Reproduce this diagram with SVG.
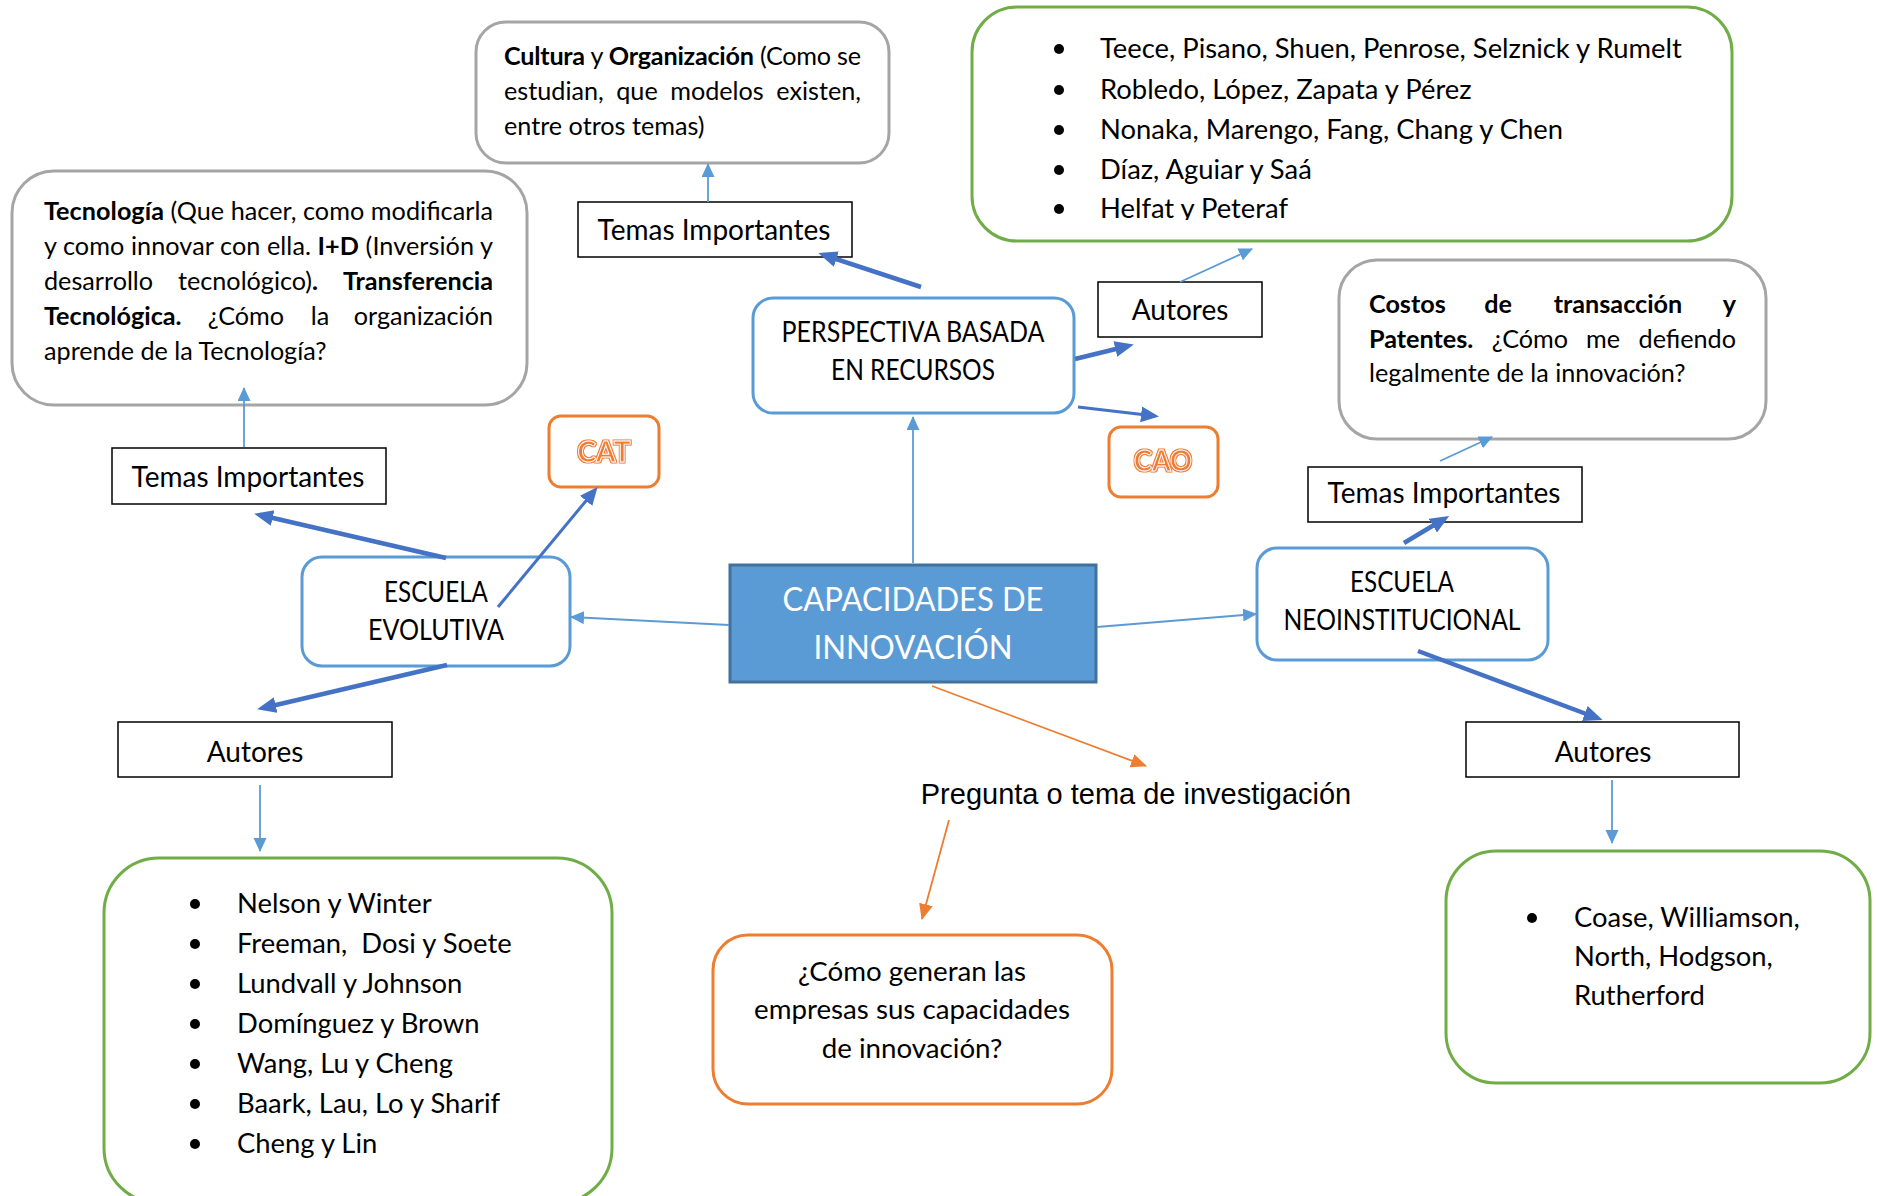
<svg xmlns="http://www.w3.org/2000/svg" width="1877" height="1196" viewBox="0 0 1877 1196">
<style>
.t{font-family:Lato,"Noto Sans",sans-serif;fill:#000}
.body{font-size:25.2px}
.lbl{font-size:28px}
.lst{font-size:27.4px}
.q{font-size:27.7px}
.b{font-weight:bold}
.mid{text-anchor:middle}
.end{text-anchor:end}
.gray{fill:#fff;stroke:#A5A5A5;stroke-width:3}
.green{fill:#fff;stroke:#70AD47;stroke-width:3}
.blue{fill:#fff;stroke:#5B9BD5;stroke-width:3}
.orange{fill:#fff;stroke:#ED7D31;stroke-width:3}
.sq{fill:#fff;stroke:#000;stroke-width:1.5}
.thin{fill:none;stroke:#5B9BD5;stroke-width:1.8}
.thick{fill:none;stroke:#4472C4;stroke-width:4.5}
.med{fill:none;stroke:#4472C4;stroke-width:3}
.or{fill:none;stroke:#ED7D31;stroke-width:1.8}
.tag{font-family:Lato,"Noto Sans",sans-serif;font-weight:bold;font-size:29px;fill:#ED7D31;stroke:#fff;stroke-width:0.9;text-anchor:middle}
</style>
<defs>
<marker id="a-lb" markerUnits="userSpaceOnUse" markerWidth="16" markerHeight="14" refX="13" refY="6.5" orient="auto"><path d="M0,0 L14,6.5 L0,13 z" fill="#5B9BD5"/></marker>
<marker id="a-db" markerUnits="userSpaceOnUse" markerWidth="20" markerHeight="18" refX="13" refY="8" orient="auto"><path d="M0,0 L19,8 L0,16 z" fill="#4472C4"/></marker>
<marker id="a-dm" markerUnits="userSpaceOnUse" markerWidth="20" markerHeight="18" refX="14" refY="8" orient="auto"><path d="M0,0 L18,8 L0,16 z" fill="#4472C4"/></marker>
<marker id="a-or" markerUnits="userSpaceOnUse" markerWidth="18" markerHeight="16" refX="15" refY="7" orient="auto"><path d="M0,0 L16,7 L0,14 z" fill="#ED7D31"/></marker>
<filter id="outl" x="-10%" y="-10%" width="120%" height="120%"><feMorphology in="SourceAlpha" operator="dilate" radius="1.3" result="d"/><feFlood flood-color="#ED7D31"/><feComposite in2="d" operator="in" result="o"/><feMerge><feMergeNode in="o"/><feMergeNode in="SourceGraphic"/></feMerge></filter>
<clipPath id="clipTop"><rect x="972" y="0" width="760" height="220"/></clipPath>
</defs>
<rect width="1877" height="1196" fill="#fff"/>

<g id="node-center">
<rect x="730" y="565" width="366" height="117" fill="#5B9BD5" stroke="#41719C" stroke-width="3"/>
<text class="t mid" x="913" y="611" font-size="33" style="fill:#fff" textLength="261" lengthAdjust="spacingAndGlyphs">CAPACIDADES DE</text>
<text class="t mid" x="913" y="659" font-size="33" style="fill:#fff" textLength="199" lengthAdjust="spacingAndGlyphs">INNOVACIÓN</text>
</g>

<g id="node-perspectiva">
<rect class="blue" x="753" y="298" width="321" height="115" rx="20"/>
<text class="t lbl mid" x="913" y="342" textLength="263" lengthAdjust="spacingAndGlyphs">PERSPECTIVA BASADA</text>
<text class="t lbl mid" x="913" y="380" textLength="164" lengthAdjust="spacingAndGlyphs">EN RECURSOS</text>
</g>

<g id="node-evolutiva">
<rect class="blue" x="302" y="557" width="268" height="109" rx="20"/>
<text class="t lbl mid" x="436" y="602" textLength="104" lengthAdjust="spacingAndGlyphs">ESCUELA</text>
<text class="t lbl mid" x="436" y="640" textLength="136" lengthAdjust="spacingAndGlyphs">EVOLUTIVA</text>
</g>

<g id="node-neoinst">
<rect class="blue" x="1257" y="548" width="291" height="112" rx="20"/>
<text class="t lbl mid" x="1402" y="592" textLength="104" lengthAdjust="spacingAndGlyphs">ESCUELA</text>
<text class="t lbl mid" x="1402" y="630" textLength="237" lengthAdjust="spacingAndGlyphs">NEOINSTITUCIONAL</text>
</g>

<g id="node-temas-top">
<rect class="sq" x="578" y="202" width="274" height="55"/>
<text class="t lbl mid" x="714" y="240">Temas Importantes</text>
</g>

<g id="node-temas-left">
<rect class="sq" x="112" y="448" width="274" height="56"/>
<text class="t lbl mid" x="248" y="487">Temas Importantes</text>
</g>

<g id="node-temas-right">
<rect class="sq" x="1308" y="467" width="274" height="55"/>
<text class="t lbl mid" x="1444" y="503">Temas Importantes</text>
</g>

<g id="node-autores-top">
<rect class="sq" x="1098" y="282" width="164" height="55"/>
<text class="t lbl mid" x="1180" y="320">Autores</text>
</g>

<g id="node-autores-left">
<rect class="sq" x="118" y="722" width="274" height="55"/>
<text class="t lbl mid" x="255" y="762">Autores</text>
</g>

<g id="node-autores-right">
<rect class="sq" x="1466" y="722" width="273" height="55"/>
<text class="t lbl mid" x="1603" y="762">Autores</text>
</g>

<g id="node-cat">
<rect class="orange" x="549" y="416" width="110" height="71" rx="12"/>
<text class="tag" x="604" y="462" textLength="53" lengthAdjust="spacingAndGlyphs" filter="url(#outl)">CAT</text>
</g>

<g id="node-cao">
<rect class="orange" x="1109" y="427" width="109" height="70" rx="12"/>
<text class="tag" x="1163" y="471" textLength="58" lengthAdjust="spacingAndGlyphs" filter="url(#outl)">CAO</text>
</g>

<g id="node-tecnologia">
<rect class="gray" x="12" y="171" width="515" height="234" rx="42"/>
<text class="t body" x="44" y="220" textLength="449" lengthAdjust="spacing"><tspan class="b">Tecnología</tspan> (Que hacer, como modificarla</text>
<text class="t body" x="44" y="255" textLength="449" lengthAdjust="spacing">y como innovar con ella. <tspan class="b">I+D</tspan> (Inversión y</text>
<text class="t body" x="44" y="290">desarrollo</text>
<text class="t body mid" x="248" y="290">tecnológico)<tspan class="b">.</tspan></text>
<text class="t body b end" x="493" y="290">Transferencia</text>
<text class="t body b" x="44" y="325">Tecnológica.</text>
<text class="t body mid" x="246" y="325">¿Cómo</text>
<text class="t body mid" x="320" y="325">la</text>
<text class="t body end" x="493" y="325">organización</text>
<text class="t body" x="44" y="360">aprende de la Tecnología?</text>
</g>

<g id="node-cultura">
<rect class="gray" x="476" y="22" width="413" height="141" rx="30"/>
<text class="t body" x="504" y="65" textLength="357" lengthAdjust="spacing"><tspan class="b">Cultura</tspan> y <tspan class="b">Organización</tspan> (Como se</text>
<text class="t body" x="504" y="100">estudian,</text>
<text class="t body mid" x="637" y="100">que</text>
<text class="t body mid" x="717" y="100">modelos</text>
<text class="t body end" x="861" y="100">existen,</text>
<text class="t body" x="504" y="135">entre otros temas)</text>
</g>

<g id="node-costos">
<rect class="gray" x="1339" y="260" width="427" height="179" rx="38"/>
<text class="t body b" x="1369" y="313">Costos</text>
<text class="t body b mid" x="1498" y="313">de</text>
<text class="t body b mid" x="1618" y="313">transacción</text>
<text class="t body b end" x="1736" y="313">y</text>
<text class="t body b" x="1369" y="348">Patentes.</text>
<text class="t body mid" x="1530" y="348">¿Cómo</text>
<text class="t body mid" x="1603" y="348">me</text>
<text class="t body end" x="1736" y="348">defiendo</text>
<text class="t body" x="1369" y="382">legalmente de la innovación?</text>
</g>

<g id="node-autores-rbv-list">
<rect class="green" x="972" y="7" width="760" height="234" rx="45"/>
<g clip-path="url(#clipTop)">
<circle cx="1059" cy="49" r="5"/>
<circle cx="1059" cy="90" r="5"/>
<circle cx="1059" cy="130" r="5"/>
<circle cx="1059" cy="170" r="5"/>
<circle cx="1059" cy="209" r="5"/>
<text class="t lst" x="1100" y="58">Teece, Pisano, Shuen, Penrose, Selznick y Rumelt</text>
<text class="t lst" x="1100" y="99">Robledo, López, Zapata y Pérez</text>
<text class="t lst" x="1100" y="139">Nonaka, Marengo, Fang, Chang y Chen</text>
<text class="t lst" x="1100" y="179">Díaz, Aguiar y Saá</text>
<text class="t lst" x="1100" y="218">Helfat y Peteraf</text>
</g>
</g>

<g id="node-autores-evol-list">
<rect class="green" x="104" y="858" width="508" height="345" rx="55"/>
<circle cx="195" cy="904" r="5"/>
<circle cx="195" cy="944" r="5"/>
<circle cx="195" cy="984" r="5"/>
<circle cx="195" cy="1024" r="5"/>
<circle cx="195" cy="1064" r="5"/>
<circle cx="195" cy="1104" r="5"/>
<circle cx="195" cy="1144" r="5"/>
<text class="t lst" x="237" y="913">Nelson y Winter</text>
<text class="t lst" x="237" y="953" xml:space="preserve">Freeman,  Dosi y Soete</text>
<text class="t lst" x="237" y="993">Lundvall y Johnson</text>
<text class="t lst" x="237" y="1033">Domínguez y Brown</text>
<text class="t lst" x="237" y="1073">Wang, Lu y Cheng</text>
<text class="t lst" x="237" y="1113">Baark, Lau, Lo y Sharif</text>
<text class="t lst" x="237" y="1153">Cheng y Lin</text>
</g>

<g id="node-autores-neo-list">
<rect class="green" x="1446" y="851" width="424" height="232" rx="50"/>
<circle cx="1532" cy="918" r="5"/>
<text class="t lst" x="1574" y="927">Coase, Williamson,</text>
<text class="t lst" x="1574" y="966">North, Hodgson,</text>
<text class="t lst" x="1574" y="1005">Rutherford</text>
</g>

<g id="node-pregunta">
<text x="1136" y="804" text-anchor="middle" font-family="'Liberation Sans',Arial,sans-serif" font-size="29" fill="#000">Pregunta o tema de investigación</text>
</g>

<g id="node-question">
<rect class="orange" x="713" y="935" width="399" height="169" rx="35"/>
<text class="t q mid" x="912" y="981">¿Cómo generan las</text>
<text class="t q mid" x="912" y="1019">empresas sus capacidades</text>
<text class="t q mid" x="912" y="1058">de innovación?</text>
</g>

<g id="connectors">
<path class="thin" d="M913,563 L913,417" marker-end="url(#a-lb)"/>
<path class="thin" d="M729,625 L571,617" marker-end="url(#a-lb)"/>
<path class="thin" d="M1097,627 L1256,614" marker-end="url(#a-lb)"/>
<path class="thin" d="M708,202 L708,164" marker-end="url(#a-lb)"/>
<path class="thin" d="M1180,282 L1252,249" marker-end="url(#a-lb)"/>
<path class="thin" d="M244,447 L244,388" marker-end="url(#a-lb)"/>
<path class="thin" d="M260,785 L260,851" marker-end="url(#a-lb)"/>
<path class="thin" d="M1440,461 L1492,437" marker-end="url(#a-lb)"/>
<path class="thin" d="M1612,780 L1612,843" marker-end="url(#a-lb)"/>
<path class="or" d="M932,686 L1146,766" marker-end="url(#a-or)"/>
<path class="or" d="M949,820 L922,919" marker-end="url(#a-or)"/>
<path class="thick" d="M921,287 L824,255" marker-end="url(#a-db)"/>
<path class="thick" d="M1075,359 L1128,346" marker-end="url(#a-db)"/>
<path class="thick" d="M446,558 L260,515" marker-end="url(#a-db)"/>
<path class="thick" d="M447,665 L263,708" marker-end="url(#a-db)"/>
<path class="thick" d="M1404,543 L1444,519" marker-end="url(#a-db)"/>
<path class="thick" d="M1418,651 L1597,718" marker-end="url(#a-db)"/>
<path class="med" d="M1078,407 L1155,416" marker-end="url(#a-dm)"/>
<path class="med" d="M498,607 L595,490" marker-end="url(#a-dm)"/>
</g>
</svg>
